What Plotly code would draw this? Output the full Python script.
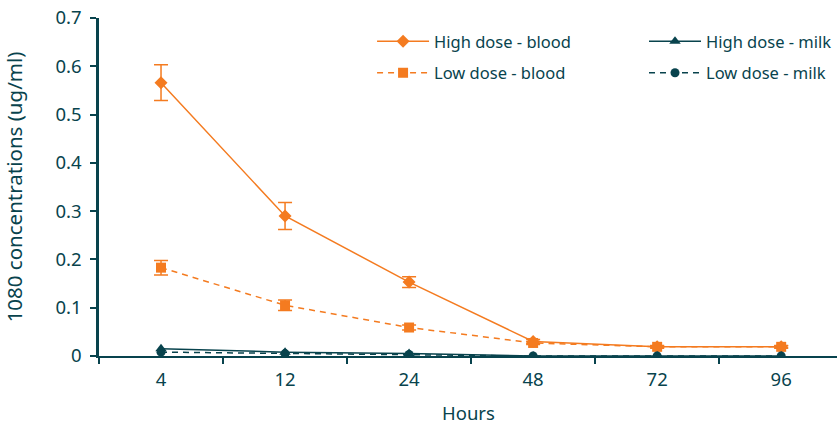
import plotly.graph_objects as go

hours = ["4", "12", "24", "48", "72", "96"]
high_blood = [0.566, 0.290, 0.153, 0.030, 0.019, 0.019]
high_blood_err = [0.037, 0.028, 0.011, 0.004, 0.003, 0.003]
low_blood = [0.183, 0.105, 0.059, 0.027, 0.019, 0.019]
low_blood_err = [0.015, 0.011, 0.005, 0.003, 0.002, 0.002]
high_milk = [0.015, 0.008, 0.005, 0.0, 0.0, 0.0]
low_milk = [0.008, 0.005, 0.003, 0.0, 0.0, 0.0]

ORANGE = "#F47B20"
TEAL = "#08434D"
FONT = "Noto Sans"

fig = go.Figure()
fig.add_trace(go.Scatter(
    x=hours, y=high_blood, name="High dose - blood", mode="lines+markers",
    line=dict(color=ORANGE, width=1.5),
    marker=dict(symbol="diamond", size=10, color=ORANGE),
    error_y=dict(type="data", array=high_blood_err, color=ORANGE, thickness=1.5, width=7),
    legend="legend", legendgroup="a"))
fig.add_trace(go.Scatter(
    x=hours, y=low_blood, name="Low dose - blood", mode="lines+markers",
    line=dict(color=ORANGE, width=1.5, dash="6px,5px"),
    marker=dict(symbol="square", size=10, color=ORANGE),
    error_y=dict(type="data", array=low_blood_err, color=ORANGE, thickness=1.5, width=7),
    legend="legend", legendgroup="b"))
fig.add_trace(go.Scatter(
    x=hours, y=high_milk, name="High dose - milk", mode="lines+markers",
    line=dict(color=TEAL, width=1.5),
    marker=dict(symbol="triangle-up", size=10, color=TEAL),
    legend="legend2", legendgroup="c"))
fig.add_trace(go.Scatter(
    x=hours, y=low_milk, name="Low dose - milk", mode="lines+markers",
    line=dict(color=TEAL, width=1.5, dash="6px,5px"),
    marker=dict(symbol="circle", size=9, color=TEAL),
    legend="legend2", legendgroup="d"))

fig.update_layout(
    width=837, height=423,
    margin=dict(l=99, r=0, t=18, b=67, autoexpand=False),
    paper_bgcolor="white", plot_bgcolor="white",
    font=dict(family=FONT, color=TEAL, size=18),
    xaxis=dict(
        type="category", range=[-0.5, 5.45], showgrid=False, zeroline=False,
        showline=True, linecolor=TEAL, linewidth=1.5,
        ticks="outside", tickson="boundaries", ticklen=6, tickcolor=TEAL, tickwidth=1.5,
        tickfont=dict(size=18.5, color=TEAL), ticklabelstandoff=6,
    ),
    yaxis=dict(
        range=[0, 0.7], dtick=0.1, showgrid=False, zeroline=False,
        showline=True, linecolor=TEAL, linewidth=2.5,
        ticks="outside", ticklen=6, tickcolor=TEAL, tickwidth=1.5,
        tickfont=dict(size=18.5, color=TEAL), ticklabelstandoff=5,
        ticklabeloverflow="allow",
        title=dict(text="1080 concentrations (ug/ml)", font=dict(size=20.5, color=TEAL), standoff=32),
    ),
    legend=dict(x=0.37, y=0.982, xanchor="left", yanchor="top",
                font=dict(size=16.5, color=TEAL), bgcolor="rgba(0,0,0,0)",
                tracegroupgap=7, itemwidth=52),
    legend2=dict(x=1.0, y=0.982, xanchor="right", yanchor="top",
                 font=dict(size=16.5, color=TEAL), bgcolor="rgba(0,0,0,0)",
                 tracegroupgap=7, itemwidth=52),
    annotations=[dict(text="Hours", xref="paper", yref="paper", x=0.5, y=0,
                      xanchor="center", yanchor="middle", yshift=-56, showarrow=False,
                      font=dict(size=18.5, color=TEAL, family=FONT))],
)

fig.write_html("out.html", config={"displayModeBar": False},
               post_script="document.body.style.margin='0';")
